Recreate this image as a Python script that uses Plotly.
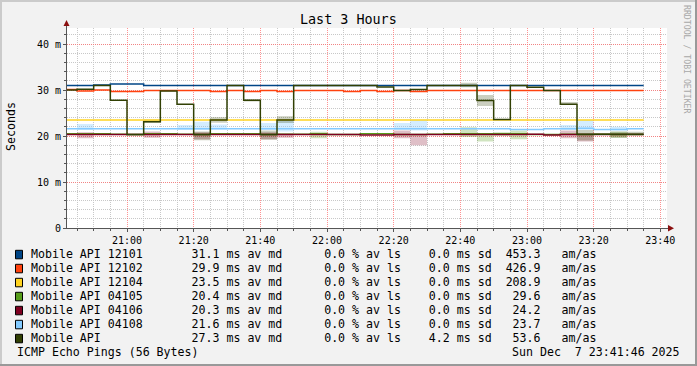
import plotly.graph_objects as go
import pandas as pd

# ------------------------------------------------------------------ data
slot_start = "2025-12-07 20:40"      # first 5-minute slot
slot_minutes = 5
x_start = "2025-12-07 20:42:00"
x_end = "2025-12-07 23:42:00"

series_names = ["Mobile API 12101", "Mobile API 12102", "Mobile API 12104",
                "Mobile API 04105", "Mobile API 04106", "Mobile API 04108",
                "Mobile API"]
series_colors = ["#004586", "#ff420e", "#ffd320", "#579d1c", "#7e0021",
                 "#83caff", "#314004"]

# median RTT per 5-minute slot (ms), slots 20:40 ... 23:30
median_12101 = [31.0, 31.0, 31.1, 31.3, 31.3, 31.0, 31.0, 31.0, 31.0, 31.0,
                31.0, 31.0, 31.0, 31.0, 31.0, 31.0, 31.0, 31.0, 31.0, 31.0,
                31.0, 31.0, 31.0, 31.0, 31.0, 31.0, 31.0, 31.0, 31.0, 31.0,
                31.0, 31.0, 31.0, 31.0, 31.0]
median_12102 = [30.1, 29.8, 30.0, 29.7, 29.7, 29.9, 29.9, 29.9, 29.9, 29.7,
                29.9, 29.7, 29.9, 29.7, 29.9, 29.9, 29.9, 29.7, 29.9, 29.7,
                29.9, 29.7, 29.9, 29.9, 29.9, 29.9, 29.9, 29.9, 29.9, 29.9,
                29.9, 29.9, 29.9, 29.9, 29.9]
median_12104 = [23.5] * 35
median_04105 = [20.5, 20.5, 20.5, 20.4, 20.3, 20.5, 20.5, 20.4, 20.3, 20.5,
                20.5, 20.5, 20.3, 20.4, 20.4, 20.5, 20.3, 20.3, 20.5, 20.5,
                20.3, 20.3, 20.4, 20.5, 20.5, 20.5, 20.5, 20.5, 20.3, 20.3,
                20.4, 20.3, 20.4, 20.3, 20.3]
median_04106 = [20.3, 20.3, 20.3, 20.3, 20.3, 20.3, 20.3, 20.3, 20.3, 20.3,
                20.3, 20.3, 20.3, 20.3, 20.3, 20.3, 20.3, 20.3, 20.2, 20.2,
                20.3, 20.3, 20.3, 20.3, 20.3, 20.3, 20.3, 20.3, 20.4, 20.2,
                20.3, 20.3, 20.3, 20.3, 20.3]
median_04108 = [21.6, 21.6, 21.6, 21.6, 21.6, 21.6, 21.6, 21.6, 21.6, 21.6,
                21.6, 21.6, 21.6, 21.6, 21.6, 21.6, 21.6, 21.6, 21.6, 21.6,
                21.6, 21.6, 21.6, 21.6, 21.6, 21.6, 21.6, 21.4, 21.4, 21.6,
                21.6, 21.7, 21.4, 21.4, 21.6]
median_mobile = [30.0, 30.15, 31.0, 27.8, 20.3, 23.1, 29.8, 26.9, 20.3, 23.5,
                 31.0, 27.8, 20.3, 23.5, 31.0, 31.0, 31.0, 31.0, 31.0, 30.65,
                 29.9, 30.1, 31.0, 31.0, 31.0, 27.7, 23.6, 31.0, 30.6, 29.9,
                 26.9, 20.4, 20.4, 20.4, 20.4]

# smoke (spread) boxes: (slot index, low ms, high ms)
smoke_12101 = []
smoke_12102 = []
smoke_12104 = []
smoke_04105 = [(15, 19.5, 20.9), (24, 19.8, 21.9), (25, 18.8, 20.6),
               (26, 20.0, 20.8), (27, 19.3, 21.2), (33, 19.6, 20.9)]
smoke_04106 = [(1, 19.5, 20.8), (5, 19.6, 21.0), (8, 19.3, 20.8),
               (12, 19.3, 20.8), (13, 19.6, 20.6), (20, 19.5, 21.2),
               (21, 18.0, 20.2), (30, 19.5, 21.2), (31, 18.8, 20.5)]
smoke_04108 = [(1, 21.3, 22.6), (7, 21.3, 22.4), (8, 21.3, 23.1),
               (9, 21.4, 22.5), (12, 21.3, 22.8), (13, 21.0, 23.3),
               (20, 21.3, 22.8), (21, 21.2, 23.5), (30, 21.3, 22.4),
               (31, 21.3, 23.5), (33, 21.2, 22.0)]
smoke_mobile = [(5, 22.8, 23.6), (8, 19.1, 21.0), (9, 22.9, 24.1),
                (11, 27.5, 28.0), (12, 19.2, 21.2), (13, 22.8, 24.3),
                (24, 30.6, 31.6), (25, 26.5, 28.9), (30, 26.9, 27.4),
                (31, 19.0, 21.3), (33, 19.6, 21.0), (34, 20.2, 20.9)]

legend_avg = ["31.1", "29.9", "23.5", "20.4", "20.3", "21.6", "27.3"]
legend_loss = ["0.0"] * 7
legend_sd = ["0.0", "0.0", "0.0", "0.0", "0.0", "0.0", "4.2"]
legend_amas = ["453.3", "426.9", "208.9", "29.6", "24.2", "23.7", "53.6"]

y_tickvals = [0, 10, 20, 30, 40]
y_ticktext = ["0", "10 m", "20 m", "30 m", "40 m"]

title_text = "Last 3 Hours"
y_title = "Seconds"
footer_left = "ICMP Echo Pings (56 Bytes)"
footer_right = "Sun Dec\u00a0\u00a07 23:41:46 2025"
watermark = "RRDTOOL / TOBI OETIKER"

medians = [median_12101, median_12102, median_12104, median_04105,
           median_04106, median_04108, median_mobile]
smokes = [smoke_12101, smoke_12102, smoke_12104, smoke_04105,
          smoke_04106, smoke_04108, smoke_mobile]

# ------------------------------------------------------------------ geometry
W, H = 697, 366
PL, PR, PT, PB = 67, 667, 28, 228          # plot area in pixels
FONT = "DejaVu Sans Mono"


def px(x):
    return (x - PL) / (PR - PL)


def py(y):
    return (PB - y) / (PB - PT)


t0 = pd.Timestamp(slot_start)
n_slots = len(median_mobile)
edges = [t0 + pd.Timedelta(minutes=slot_minutes * i) for i in range(n_slots + 1)]


def rgba(hexc, a):
    h = hexc.lstrip("#")
    return f"rgba({int(h[0:2],16)},{int(h[2:4],16)},{int(h[4:6],16)},{a})"


fig = go.Figure()

smoke_alpha = [0.3, 0.3, 0.3, 0.28, 0.25, 0.35, 0.25]
for name, col, sm, a in zip(series_names, series_colors, smokes, smoke_alpha):
    if not sm:
        continue
    xs, ys = [], []
    for i, lo, hi in sm:
        xs += [edges[i], edges[i + 1], edges[i + 1], edges[i], edges[i], None]
        ys += [lo, lo, hi, hi, lo, None]
    fig.add_trace(go.Scatter(x=xs, y=ys, mode="lines", fill="toself",
                             fillcolor=rgba(col, a), line=dict(width=0),
                             hoverinfo="skip", showlegend=False))

for name, col, med in zip(series_names, series_colors, medians):
    fig.add_trace(go.Scatter(x=edges, y=med + [med[-1]], mode="lines",
                             line=dict(color=col, width=1.5, shape="hv"),
                             name=name, showlegend=False))

axis_col = "#555555"
minor_grid = "#c8c8c8"
major_grid = "rgba(255,110,110,0.75)"

fig.update_xaxes(
    type="date", range=[x_start, x_end],
    tick0="2025-12-07 21:00", dtick=20 * 60 * 1000, tickformat="%H:%M",
    showgrid=True, gridcolor=major_grid, griddash="1px,1px", gridwidth=1,
    showline=True, linecolor=axis_col, linewidth=1,
    ticks="outside", ticklen=3, tickcolor=axis_col,
    minor=dict(dtick=5 * 60 * 1000, showgrid=True, gridcolor=minor_grid,
               griddash="1px,1px", ticks="outside", ticklen=2, tickcolor=axis_col),
    zeroline=False,
    tickfont=dict(family=FONT, size=10, color="#000"),
)
fig.update_yaxes(
    range=[0, 43.48], tickvals=y_tickvals, ticktext=y_ticktext,
    showgrid=True, gridcolor=major_grid, griddash="1px,1px", gridwidth=1,
    showline=True, linecolor=axis_col, linewidth=1,
    ticks="outside", ticklen=3, tickcolor=axis_col,
    minor=dict(dtick=2, showgrid=True, gridcolor=minor_grid, griddash="1px,1px",
               ticks="outside", ticklen=2, tickcolor=axis_col),
    zeroline=False,
    tickfont=dict(family=FONT, size=10, color="#000"),
)

shapes = []
# image frame (3D look)
shapes.append(dict(type="rect", xref="paper", yref="paper",
                   x0=px(0), x1=px(W), y0=py(H), y1=py(H - 2),
                   fillcolor="#999999", line=dict(width=0), layer="above"))
shapes.append(dict(type="rect", xref="paper", yref="paper",
                   x0=px(W - 2), x1=px(W), y0=py(H), y1=py(0),
                   fillcolor="#999999", line=dict(width=0), layer="above"))
shapes.append(dict(type="rect", xref="paper", yref="paper",
                   x0=px(0), x1=px(W - 2), y0=py(2), y1=py(0),
                   fillcolor="#cbcbcb", line=dict(width=0), layer="above"))
shapes.append(dict(type="rect", xref="paper", yref="paper",
                   x0=px(0), x1=px(2), y0=py(H - 2), y1=py(0),
                   fillcolor="#cbcbcb", line=dict(width=0), layer="above"))
# axis extensions and arrows
shapes.append(dict(type="line", xref="paper", yref="paper",
                   x0=px(PR), x1=px(670), y0=py(PB + 0.5), y1=py(PB + 0.5),
                   line=dict(color=axis_col, width=1)))
shapes.append(dict(type="line", xref="paper", yref="paper",
                   x0=px(PL - 0.5), x1=px(PL - 0.5), y0=py(PT), y1=py(24),
                   line=dict(color=axis_col, width=1)))
arrow_col = "#8b1010"
shapes.append(dict(type="path", xref="paper", yref="paper",
                   path=f"M {px(PL-3.5)} {py(26)} L {px(PL+2.5)} {py(26)} L {px(PL-0.5)} {py(20)} Z",
                   fillcolor=arrow_col, line=dict(width=0)))
shapes.append(dict(type="path", xref="paper", yref="paper",
                   path=f"M {px(668)} {py(225)} L {px(668)} {py(231.5)} L {px(674)} {py(228.3)} Z",
                   fillcolor=arrow_col, line=dict(width=0)))

annotations = []
annotations.append(dict(text=title_text, x=px(348), y=py(19), xref="paper", yref="paper",
                        xanchor="center", yanchor="middle", showarrow=False,
                        font=dict(family=FONT, size=13.4, color="#000")))
annotations.append(dict(text=y_title, x=px(11), y=py(127), xref="paper", yref="paper",
                        xanchor="center", yanchor="middle", showarrow=False, textangle=-90,
                        font=dict(family=FONT, size=11.6, color="#000")))
annotations.append(dict(text=watermark, x=px(687), y=py(59), xref="paper", yref="paper",
                        xanchor="center", yanchor="middle", showarrow=False, textangle=90,
                        font=dict(family=FONT, size=8.2, color="#a8a8a8")))

NB = "\u00a0"
row_y0, row_dy = 254.3, 14.0
for k, (name, col) in enumerate(zip(series_names, series_colors)):
    yc = row_y0 + row_dy * k
    txt = (f"{name:<23}{legend_avg[k]:>4} ms av md      {legend_loss[k]} % av ls    "
           f"{legend_sd[k]} ms sd  {legend_amas[k]:>5}   am/as").replace(" ", NB)
    annotations.append(dict(text=txt, x=px(30), y=py(yc), xref="paper", yref="paper",
                            xanchor="left", yanchor="middle", showarrow=False, borderpad=0,
                            font=dict(family=FONT, size=11.6, color="#000")))
    shapes.append(dict(type="rect", xref="paper", yref="paper",
                       x0=px(15.5), x1=px(22.5), y0=py(yc + 4.5), y1=py(yc - 4),
                       fillcolor=col, line=dict(color="#000", width=1), layer="above"))

annotations.append(dict(text=footer_left, x=px(16), y=py(352.3), xref="paper", yref="paper",
                        xanchor="left", yanchor="middle", showarrow=False, borderpad=0,
                        font=dict(family=FONT, size=11.6, color="#000")))
annotations.append(dict(text=footer_right, x=px(681), y=py(352.3), xref="paper", yref="paper",
                        xanchor="right", yanchor="middle", showarrow=False, borderpad=0,
                        font=dict(family=FONT, size=11.6, color="#000")))

fig.update_layout(
    width=W, height=H,
    margin=dict(l=PL, r=W - PR, t=PT, b=H - PB, pad=0),
    paper_bgcolor="#f2f2f2", plot_bgcolor="#ffffff",
    showlegend=False,
    shapes=shapes, annotations=annotations,
    font=dict(family=FONT),
)

fig.write_html("out.html")
